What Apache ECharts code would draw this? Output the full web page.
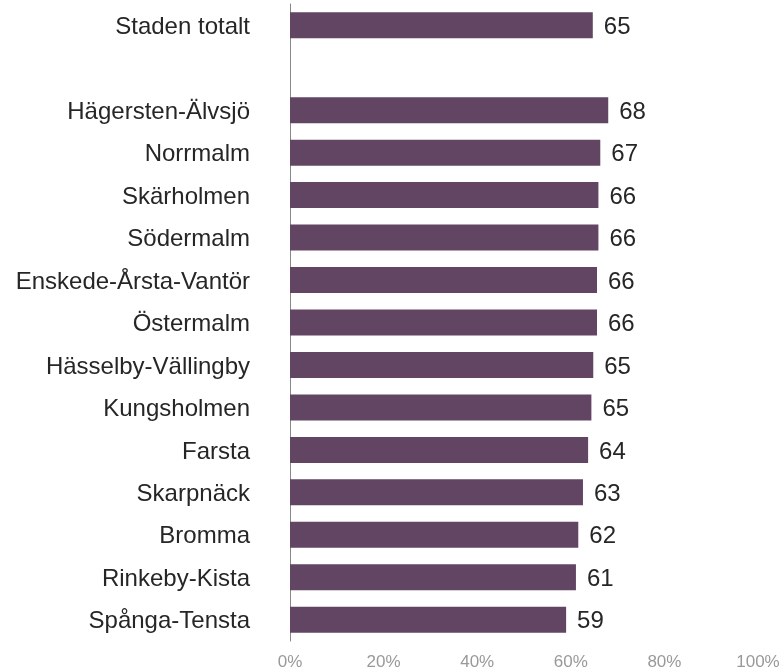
<!DOCTYPE html>
<html>
<head>
<meta charset="utf-8">
<script src="https://cdn.jsdelivr.net/npm/echarts@6/dist/echarts.min.js"></script>
<style>
  html, body { margin: 0; padding: 0; background: #fff; }
  #chart { width: 783px; height: 671px; }
</style>
</head>
<body>
<div id="chart"></div>
<script>
// categories, top to bottom ('' is the empty spacer row)
const categories = [
  'Staden totalt', '', 'Hägersten-Älvsjö', 'Norrmalm', 'Skärholmen', 'Södermalm',
  'Enskede-Årsta-Vantör', 'Östermalm', 'Hässelby-Vällingby', 'Kungsholmen',
  'Farsta', 'Skarpnäck', 'Bromma', 'Rinkeby-Kista', 'Spånga-Tensta'
];
// bar lengths (percent)
const values = [64.7, null, 68.0, 66.3, 65.9, 65.9, 65.6, 65.6, 64.8, 64.4, 63.7, 62.6, 61.6, 61.1, 59.0];
// printed labels
const valueLabels = ['65', '', '68', '67', '66', '66', '66', '66', '65', '65', '64', '63', '62', '61', '59'];
const xTicks = [0, 20, 40, 60, 80, 100];

const chart = echarts.init(document.getElementById('chart'));
chart.setOption({
  animation: false,
  textStyle: { fontFamily: 'Liberation Sans, Arial, sans-serif' },
  grid: { left: 290, right: 25, top: 4, bottom: 30, containLabel: false },
  xAxis: {
    type: 'value',
    min: xTicks[0],
    max: xTicks[xTicks.length - 1],
    interval: 20,
    axisLine: { show: false },
    axisTick: { show: false },
    splitLine: { show: false },
    axisLabel: {
      formatter: '{value}%',
      color: '#999',
      fontSize: 17,
      margin: 13
    }
  },
  yAxis: {
    type: 'category',
    data: categories,
    inverse: true,
    axisLine: { show: true, lineStyle: { color: '#888', width: 1 } },
    axisTick: { show: false },
    axisLabel: {
      margin: 40,
      formatter: v => (v ? '{c|' + v + '}' : ''),
      rich: {
        c: { color: '#262626', fontSize: 24, padding: [4, 0, 0, 0] }
      }
    }
  },
  series: [{
    type: 'bar',
    data: values,
    barWidth: 26,
    itemStyle: { color: '#624563' },
    label: {
      show: true,
      position: 'right',
      distance: 11,
      offset: [0, 2],
      color: '#262626',
      fontSize: 24,
      formatter: p => valueLabels[p.dataIndex]
    }
  }]
});
</script>
</body>
</html>
